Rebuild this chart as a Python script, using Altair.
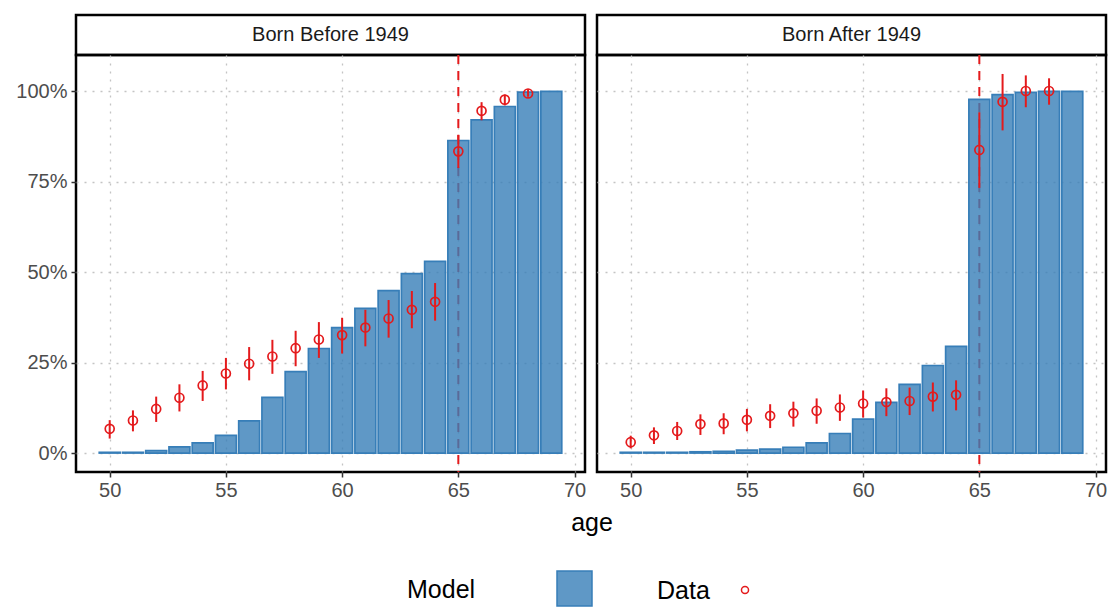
import altair as alt
import pandas as pd

FONT = "Liberation Sans"

# ---------------- data ----------------
model_ages = list(range(50, 70))
data_ages = list(range(50, 69))
ref_age = [65]

before_model = [0.2, 0.2, 0.7, 1.7, 2.8, 4.9, 8.9, 15.4, 22.5, 28.9, 34.7, 40.0, 44.9, 49.6, 53.0,
                86.4, 92.1, 95.8, 99.8, 100.0]
after_model = [0.2, 0.2, 0.2, 0.35, 0.5, 0.8, 1.1, 1.6, 2.8, 5.4, 9.4, 14.0, 19.0, 24.2, 29.5,
               97.8, 99.1, 99.7, 100.0, 100.0]

before_data = [6.7, 9.0, 12.2, 15.3, 18.7, 22.0, 24.7, 26.7, 29.0, 31.4, 32.6, 34.7, 37.2, 39.6, 41.8,
               83.4, 94.6, 97.7, 99.4]
before_lo = [4.0, 6.0, 8.6, 11.5, 14.4, 17.6, 20.1, 21.9, 24.0, 26.3, 27.5, 29.5, 31.9, 34.5, 36.6,
             78.8, 92.0, 96.1, 98.5]
before_hi = [9.1, 11.8, 15.6, 19.0, 22.7, 26.3, 29.3, 31.3, 33.8, 36.2, 37.4, 39.6, 42.3, 44.8, 47.0,
             88.0, 97.0, 99.1, 100.6]

after_data = [3.0, 4.9, 6.1, 8.0, 8.2, 9.2, 10.3, 11.0, 11.7, 12.6, 13.7, 14.1, 14.4, 15.6, 16.1,
              83.8, 97.1, 100.1, 100.1]
after_lo = [1.3, 2.5, 3.6, 5.0, 5.2, 6.0, 6.9, 7.3, 8.1, 8.9, 9.8, 10.2, 10.5, 11.5, 11.8,
            73.3, 89.2, 95.6, 96.3]
after_hi = [4.8, 7.1, 8.6, 10.7, 11.0, 12.2, 13.5, 14.2, 15.1, 16.2, 17.3, 17.9, 18.1, 19.5, 20.1,
            94.2, 104.8, 104.4, 103.6]

panel_labels = ["Born Before 1949", "Born After 1949"]
x_ticks = [50, 55, 60, 65, 70]
y_ticks = [0, 25, 50, 75, 100]

# ---------------- style ----------------
BLUE = "#377EB8"
BLUE_FILL = "rgba(55,126,184,0.8)"
RED = "#E41A1C"
W = 509
H = 417
STRIP_H = 40
GRID = dict(grid=True, gridColor="#C4C4C4", gridDash=[2, 6], gridWidth=1.3)

xscale = alt.Scale(domain=[48.55, 70.45], nice=False, zero=False)
yscale = alt.Scale(domain=[-5.24, 110.04], nice=False, zero=False)


def make_panel(model, data, lo, hi, first):
    mdf = pd.DataFrame({"age": model_ages, "model": model, "series": "Model"})
    ddf = pd.DataFrame({"age": data_ages, "data": data, "lo": lo, "hi": hi, "series": "Data"})
    rdf = pd.DataFrame({"age": ref_age})

    if first:
        xaxis = alt.Axis(values=x_ticks, title="age", titleFontSize=25, titleFont=FONT,
                         titleFontWeight="normal", titleColor="black", titleX=515.5, titleY=58,
                         titleBaseline="alphabetic", titleAlign="center",
                         labelFontSize=20, labelFont=FONT, labelColor="#4D4D4D", labelPadding=3,
                         tickColor="#333333", tickSize=5, tickWidth=1.5, domain=False, **GRID)
        yaxis = alt.Axis(values=y_ticks, title=None, labelExpr="datum.value + '%'",
                         labelFontSize=20, labelFont=FONT, labelColor="#4D4D4D", labelPadding=4,
                         tickColor="#333333", tickSize=5, tickWidth=1.5, domain=False, **GRID)
    else:
        xaxis = alt.Axis(values=x_ticks, title=None,
                         labelFontSize=20, labelFont=FONT, labelColor="#4D4D4D", labelPadding=3,
                         tickColor="#333333", tickSize=5, tickWidth=1.5, domain=False, **GRID)
        yaxis = alt.Axis(values=y_ticks, title=None, labels=False, ticks=False, domain=False,
                         minExtent=0, maxExtent=0, **GRID)

    rule = alt.Chart(rdf).mark_rule(color=RED, strokeWidth=2, strokeDash=[9, 7]).encode(
        x=alt.X("age:Q", scale=xscale, axis=xaxis)
    )

    bar_enc = dict(
        x=alt.X("x_lo:Q", scale=xscale, axis=xaxis),
        x2="x_hi:Q",
        y=alt.Y("model:Q", scale=yscale, axis=yaxis),
        y2=alt.datum(0),
    )
    if first:
        bar_enc["fill"] = alt.Fill(
            "series:N",
            scale=alt.Scale(domain=["Model"], range=[BLUE_FILL]),
            legend=alt.Legend(title="Model", orient="none", legendX=331, legendY=555,
                              titleOrient="left", titleFontSize=25, titleFont=FONT,
                              titleFontWeight="normal", titleColor="black", titlePadding=80,
                              titleBaseline="middle", titleAnchor="middle",
                              labelExpr="''", symbolType="square", symbolSize=1225,
                              symbolStrokeColor=BLUE, symbolStrokeWidth=1.5, padding=0),
        )
    bars = alt.Chart(mdf).mark_rect(
        stroke=BLUE, strokeWidth=1.7, fill=BLUE_FILL
    ).transform_calculate(x_lo="datum.age - 0.45", x_hi="datum.age + 0.45").encode(**bar_enc)

    err = alt.Chart(ddf).mark_rule(color=RED, strokeWidth=2).encode(
        x=alt.X("age:Q", scale=xscale, axis=xaxis),
        y=alt.Y("lo:Q", scale=yscale, axis=yaxis),
        y2="hi:Q",
    )

    pt_enc = dict(
        x=alt.X("age:Q", scale=xscale, axis=xaxis),
        y=alt.Y("data:Q", scale=yscale, axis=yaxis),
    )
    if first:
        pt_enc["stroke"] = alt.Stroke(
            "series:N",
            scale=alt.Scale(domain=["Data"], range=[RED]),
            legend=alt.Legend(title="Data", orient="none", legendX=581, legendY=570,
                              titleOrient="left", titleFontSize=25, titleFont=FONT,
                              titleFontWeight="normal", titleColor="black", titlePadding=30,
                              titleBaseline="middle", titleAnchor="middle",
                              labelExpr="''", symbolType="circle", symbolSize=50,
                              symbolStrokeWidth=1.5, padding=0),
        )
    pts = alt.Chart(ddf).mark_point(
        shape="circle", filled=False, stroke=RED, strokeWidth=1.7, size=80, opacity=1
    ).encode(**pt_enc)

    return alt.layer(rule, bars, err, pts).properties(
        width=W, height=H, view=alt.ViewBackground(stroke="black", strokeWidth=2.5)
    )


def make_strip(label):
    return alt.Chart(pd.DataFrame({"label": [label]})).mark_text(
        fontSize=20, font=FONT, color="#1A1A1A", baseline="middle", align="center"
    ).encode(
        text="label:N", x=alt.value(W / 2), y=alt.value(STRIP_H / 2)
    ).properties(
        width=W, height=STRIP_H, view=alt.ViewBackground(stroke="black", strokeWidth=2.5)
    )


chart = alt.concat(
    make_strip(panel_labels[0]),
    make_strip(panel_labels[1]),
    make_panel(before_model, before_data, before_lo, before_hi, True),
    make_panel(after_model, after_data, after_lo, after_hi, False),
    columns=2,
    spacing={"row": 0, "column": 12},
    bounds="flush",
).properties(
    padding={"left": 14, "top": 13, "right": 0, "bottom": 0},
    background="white",
).configure_view(stroke=None)

chart.save("out.html", embed_options={"renderer": "svg", "actions": False})
